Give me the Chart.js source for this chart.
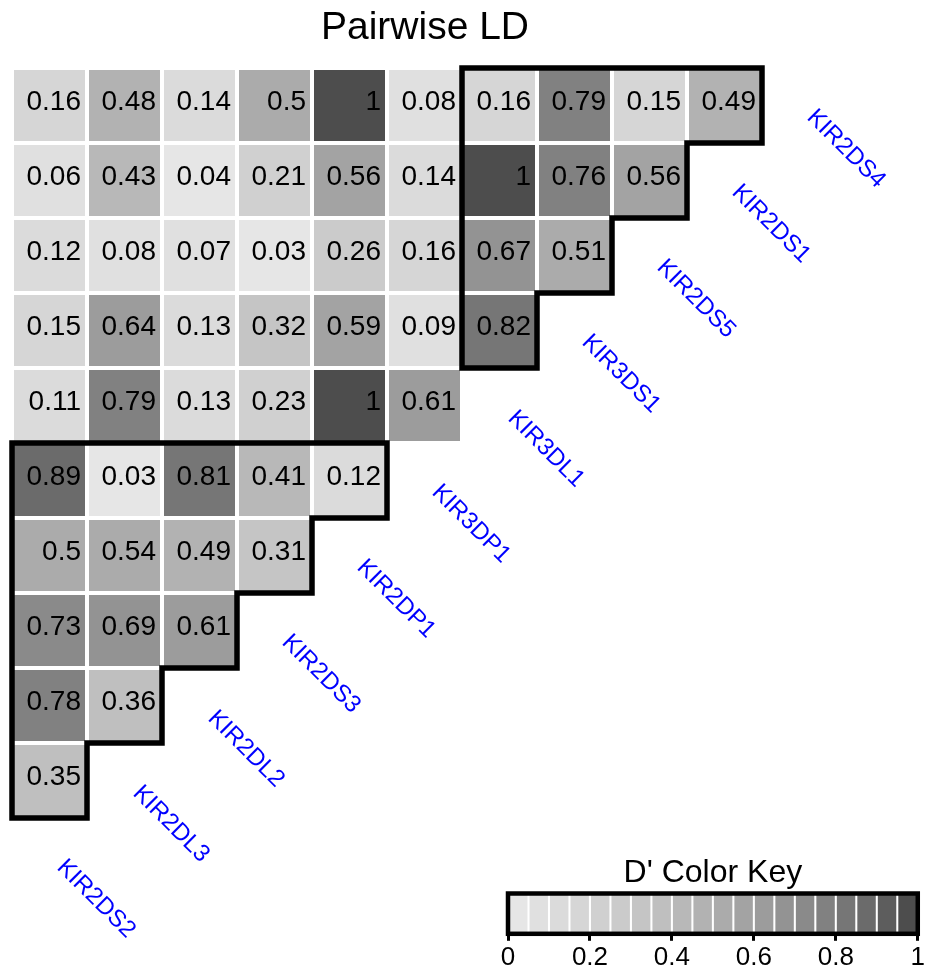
<!DOCTYPE html>
<html>
<head>
<meta charset="utf-8">
<script src="https://cdn.jsdelivr.net/npm/chart.js@4.4.1/dist/chart.umd.min.js"></script>
<style>
html, body { margin: 0; padding: 0; background: #fff; overflow: hidden; }
#wrap { position: relative; width: 926px; height: 967px; overflow: hidden; }
#ld { position: absolute; left: 0; top: 0; }
#key { position: absolute; left: 480px; top: 840px; }
</style>
</head>
<body>
<div id="wrap">
<canvas id="ld" width="926" height="967"></canvas>
<canvas id="key" width="446" height="140"></canvas>
</div>
<script>
// markers, from bottom-left label to top-right label
const markers = ['KIR2DS2', 'KIR2DL3', 'KIR2DL2', 'KIR2DS3', 'KIR2DP1', 'KIR3DP1',
                 'KIR3DL1', 'KIR3DS1', 'KIR2DS5', 'KIR2DS1', 'KIR2DS4'];

// D' values, one array per row of the triangle (top row first)
const row0 = [0.16, 0.48, 0.14, 0.5, 1, 0.08, 0.16, 0.79, 0.15, 0.49];
const row1 = [0.06, 0.43, 0.04, 0.21, 0.56, 0.14, 1, 0.76, 0.56];
const row2 = [0.12, 0.08, 0.07, 0.03, 0.26, 0.16, 0.67, 0.51];
const row3 = [0.15, 0.64, 0.13, 0.32, 0.59, 0.09, 0.82];
const row4 = [0.11, 0.79, 0.13, 0.23, 1, 0.61];
const row5 = [0.89, 0.03, 0.81, 0.41, 0.12];
const row6 = [0.5, 0.54, 0.49, 0.31];
const row7 = [0.73, 0.69, 0.61];
const row8 = [0.78, 0.36];
const row9 = [0.35];
const ldRows = [row0, row1, row2, row3, row4, row5, row6, row7, row8, row9];

// outlined blocks: [first column, first row, size]
const blocks = [[6, 0, 4], [0, 5, 5]];

const keyTicks = [0, 0.2, 0.4, 0.6, 0.8, 1];
const nBins = 20;

const FONT = '"Liberation Sans", Arial, sans-serif';

function greyFor(v) {
    let i = Math.min(nBins - 1, Math.floor(v * nBins + 1e-9));
    const a = Math.pow(0.9, 2.2), b = Math.pow(0.3, 2.2);
    const g = Math.round(255 * Math.pow(a + (b - a) * i / (nBins - 1), 1 / 2.2));
    return `rgb(${g},${g},${g})`;
}

let cells = [];
ldRows.forEach((row, r) => {
    row.forEach((v, c) => {
        cells.push({ x: c + 0.5, y: r + 0.5, v: v });
    });
});

const ldDecor = {
    id: 'ldDecor',
    afterDatasetsDraw(chart) {
        const c = chart.ctx;
        const xs = chart.scales.x, ys = chart.scales.y;
        const meta = chart.getDatasetMeta(0);

        // cell values
        c.save();
        c.fillStyle = '#000';
        c.font = '28px ' + FONT;
        c.textAlign = 'right';
        c.textBaseline = 'alphabetic';
        meta.data.forEach((pt, i) => {
            const half = (xs.getPixelForValue(1) - xs.getPixelForValue(0)) / 2;
            c.fillText(String(cells[i].v), pt.x + half - 6, pt.y + 4);
        });
        c.restore();

        // block outlines
        c.save();
        c.strokeStyle = '#000';
        c.lineWidth = 5.5;
        c.lineJoin = 'miter';
        blocks.forEach(([c0, r0, n]) => {
            let pts = [[c0, r0], [c0 + n, r0]];
            for (let i = 1; i <= n; i++) {
                pts.push([c0 + n - i + 1, r0 + i]);
                pts.push([c0 + n - i, r0 + i]);
            }
            c.beginPath();
            pts.forEach(([gx, gy], j) => {
                const px = xs.getPixelForValue(gx), py = ys.getPixelForValue(gy);
                if (j === 0) c.moveTo(px, py); else c.lineTo(px, py);
            });
            c.closePath();
            c.stroke();
        });
        c.restore();

        // marker labels along the diagonal
        c.save();
        c.fillStyle = '#0000ff';
        c.font = '24px ' + FONT;
        c.textAlign = 'center';
        c.textBaseline = 'middle';
        markers.forEach((name, k) => {
            const px = xs.getPixelForValue(k + 1.12);
            const py = ys.getPixelForValue(11 - k + 0.08);
            c.save();
            c.translate(px, py);
            c.rotate(Math.PI / 4);
            c.fillText(name, 0, 0);
            c.restore();
        });
        c.restore();

        // title
        c.save();
        c.fillStyle = '#000';
        c.font = '39px ' + FONT;
        c.textAlign = 'center';
        c.textBaseline = 'alphabetic';
        c.fillText('Pairwise LD', 425, 39);
        c.restore();
    }
};

new Chart(document.getElementById('ld'), {
    type: 'scatter',
    data: {
        datasets: [{
            data: cells,
            pointStyle: 'rect',
            pointRadius: 71 / Math.SQRT2,
            pointBorderWidth: 0,
            pointBackgroundColor: ctx => greyFor(ctx.raw.v),
            clip: false
        }]
    },
    options: {
        responsive: false,
        animation: false,
        events: [],
        layout: { autoPadding: false, padding: { left: 12, right: 164, top: 68, bottom: 149 } },
        plugins: { legend: { display: false }, tooltip: { enabled: false } },
        scales: {
            x: { type: 'linear', min: 0, max: 10, display: false },
            y: { type: 'linear', min: 0, max: 10, reverse: true, display: false }
        }
    },
    plugins: [ldDecor]
});

// colour key
let keyBins = [];
for (let i = 0; i < nBins; i++) keyBins.push({ x: (i + 0.5) / nBins, y: 1 });

const keyFrame = {
    id: 'keyFrame',
    afterDraw(chart) {
        const c = chart.ctx;
        const a = chart.chartArea;
        c.save();
        c.strokeStyle = '#000';
        c.lineWidth = 4.5;
        c.strokeRect(a.left, a.top, a.right - a.left, a.bottom - a.top);
        c.fillStyle = '#000';
        c.font = '32px ' + FONT;
        c.textAlign = 'center';
        c.textBaseline = 'alphabetic';
        c.fillText("D' Color Key", (a.left + a.right) / 2, 42);
        c.restore();
    }
};

new Chart(document.getElementById('key'), {
    type: 'bar',
    data: {
        datasets: [{
            data: keyBins,
            backgroundColor: ctx => greyFor(ctx.raw.x),
            borderWidth: 0,
            barPercentage: 0.9,
            categoryPercentage: 1
        }]
    },
    options: {
        responsive: false,
        animation: false,
        events: [],
        layout: { autoPadding: false, padding: { left: 28, right: 6, top: 53.5, bottom: 6 } },
        plugins: { legend: { display: false }, tooltip: { enabled: false } },
        scales: {
            x: {
                type: 'linear', min: 0, max: 1, offset: false,
                afterBuildTicks: s => { s.ticks = keyTicks.map(v => ({ value: v })); },
                grid: { drawOnChartArea: false, drawTicks: true, tickLength: 7, tickWidth: 3, tickColor: '#000', offset: false },
                border: { display: false },
                ticks: {
                    color: '#000', font: { family: FONT, size: 26 }, padding: 1,
                    maxRotation: 0, autoSkip: false, callback: v => String(v)
                }
            },
            y: { display: false, min: 0, max: 1 }
        }
    },
    plugins: [keyFrame]
});
</script>
</body>
</html>
